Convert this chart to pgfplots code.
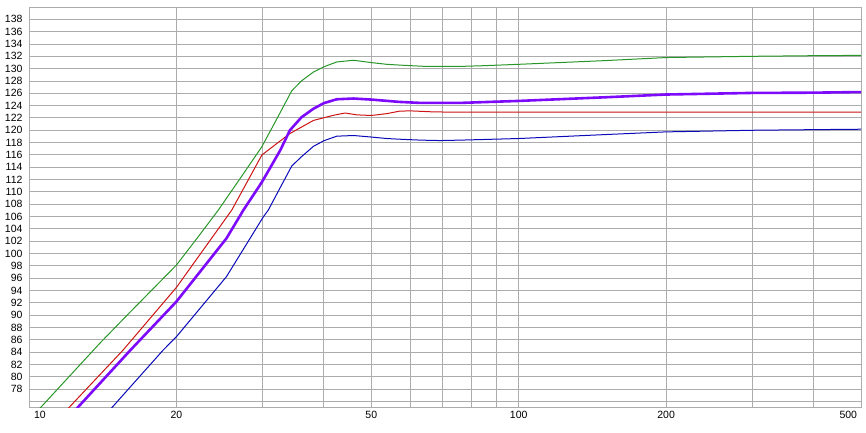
\documentclass[border=0pt]{standalone}
\usepackage{fontspec}
\setmainfont{Liberation Sans}
\usepackage{pgfplots}
\pgfplotsset{compat=1.18}
\usepackage{pgfplotstable}

\definecolor{gridgray}{RGB}{172,172,172}
\definecolor{cgreen}{RGB}{40,150,40}
\definecolor{cred}{RGB}{205,20,20}
\definecolor{cpurple}{RGB}{125,10,250}
\definecolor{cblue}{RGB}{10,10,185}

% frequency (Hz) vs level (dB)
\pgfplotstableread{
f     db
10.5  74.8
12.0  79.8
13.95 85.44
16.0  90.3
20.0  98.13
22.0  102.4
24.35 107.04
27.0  112.2
29.87 117.3
32.0  121.7
34.4  126.4
36.0  128.0
38.1  129.46
40.0  130.3
42.5  131.08
46.0  131.36
50.0  130.98
53.8  130.7
58.2  130.54
63.9  130.38
69.1  130.38
76.0  130.36
85.0  130.48
100   130.7
150   131.3
200   131.8
300   132.0
400   132.1
500   132.15
}\greendata

\pgfplotstableread{
f     db
12.0  74.8
15.57 84.35
20.0  94.5
25.94 107.04
29.9  116.0
34.1  119.47
38.1  121.6
41.9  122.44
44.2  122.8
46.7  122.5
50.0  122.4
53.8  122.7
57.1  123.1
60.0  123.15
67.0  122.98
76.0  122.93
500   122.93
}\reddata

\pgfplotstableread{
f     db
12.5  74.8
16.12 84.35
20.0  92.2
25.3  102.45
27.4  107.04
29.9  111.6
32.6  116.77
34.1  120.0
36.0  122.1
38.1  123.5
40.0  124.4
42.5  125.03
46.0  125.15
50.0  124.98
57.1  124.6
63.0  124.44
76.0  124.44
100   124.76
150   125.35
200   125.8
300   126.06
400   126.1
500   126.2
}\purpledata

\pgfplotstableread{
f     db
14.69 74.8
18.8  84.35
20.0  86.5
25.3  96.24
30.1  105.96
30.8  107.04
34.4  114.2
36.0  115.7
38.1  117.4
40.0  118.3
42.5  119.04
46.0  119.15
50.0  118.9
53.8  118.66
57.1  118.55
63.0  118.4
69.0  118.33
76.0  118.4
100   118.66
150   119.3
200   119.74
300   120.0
400   120.1
500   120.17
}\bluedata

\begin{document}
\begin{tikzpicture}
\path[use as bounding box] (-29pt,-25pt) rectangle (837pt,407pt);
\begin{axis}[
    xmode=log,
    scale only axis,
    width=832pt, height=400pt,
    xmin=10, xmax=500,
    ymin=75.1, ymax=140,
    xtick={10,20,30,40,50,60,70,80,90,100,200,300,400,500},
    xticklabels={\makebox[0pt][l]{\hspace{5pt}10},20,,,50,,,,,100,200,,,\makebox[0pt][r]{500\hspace{4pt}}},
    ytick={78,80,...,138},
    extra y ticks={76,140},
    extra y tick labels={},
    extra y tick style={grid=major},
    grid=major,
    major grid style={draw=gridgray, line width=0.9pt},
    axis line style={draw=gridgray, line width=0.9pt},
    tick style={draw=none},
    /pgf/number format/assume math mode=true,
    ticklabel style={font=\fontsize{10.5}{12}\selectfont},
    yticklabel style={xshift=-3pt},
    xticklabel style={yshift=-1pt},
    clip=true,
]
\addplot[cgreen, line width=1pt] table[x=f, y=db] {\greendata};
\addplot[cred, line width=1pt] table[x=f, y=db] {\reddata};
\addplot[cpurple, line width=2.6pt, line join=round] table[x=f, y=db] {\purpledata};
\addplot[cblue, line width=1pt] table[x=f, y=db] {\bluedata};
\end{axis}
\end{tikzpicture}
\end{document}
